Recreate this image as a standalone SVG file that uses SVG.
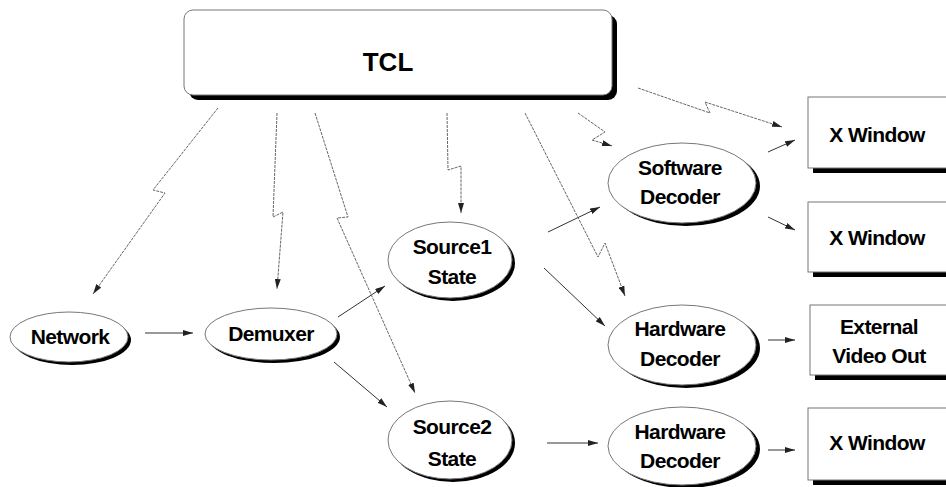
<svg xmlns="http://www.w3.org/2000/svg" width="946" height="487" viewBox="0 0 946 487">
  <style>
    .lbl { font-family: "Liberation Sans", Arial, sans-serif; font-weight: bold; font-size: 21px; fill: #000; text-anchor: middle; letter-spacing: -0.6px; }
    .shape { fill: #fff; stroke: #777; stroke-width: 1; }
    .shadow { fill: #000; }
    .flow { fill: none; stroke: #333; stroke-width: 1; marker-end: url(#arr); }
    .ctrl { fill: none; stroke: #666; stroke-width: 1; stroke-dasharray: 3 1; marker-end: url(#arr); }
  </style>
  <defs>
    <marker id="arr" viewBox="0 0 10 6" refX="10" refY="3" markerWidth="10" markerHeight="6" markerUnits="userSpaceOnUse" orient="auto">
      <path d="M0,0 L10,3 L0,6 Z" fill="#222"/>
    </marker>
  </defs>
  <rect width="946" height="487" fill="#fff"/>

  <g id="tcl">
    <rect class="shadow" x="189" y="15" width="428" height="85" rx="9"/>
    <rect class="shape" x="184" y="10" width="428" height="85" rx="9"/>
    <text class="lbl" x="388" y="71" style="font-size:26px;letter-spacing:0">TCL</text>
  </g>

  <g id="network">
    <ellipse class="shadow" cx="72" cy="340" rx="59" ry="25"/>
    <ellipse class="shape" cx="69" cy="337" rx="59" ry="25"/>
    <text class="lbl" x="70" y="344">Network</text>
  </g>

  <g id="demuxer">
    <ellipse class="shadow" cx="274" cy="337" rx="66" ry="26"/>
    <ellipse class="shape" cx="271" cy="334" rx="66" ry="26"/>
    <text class="lbl" x="271" y="341">Demuxer</text>
  </g>

  <g id="source1">
    <ellipse class="shadow" cx="453" cy="263" rx="62" ry="38"/>
    <ellipse class="shape" cx="450" cy="260" rx="62" ry="38"/>
    <text class="lbl" x="452" y="254">Source1</text>
    <text class="lbl" x="452" y="284">State</text>
  </g>

  <g id="source2">
    <ellipse class="shadow" cx="453" cy="443" rx="62" ry="39"/>
    <ellipse class="shape" cx="450" cy="440" rx="62" ry="39"/>
    <text class="lbl" x="452" y="434">Source2</text>
    <text class="lbl" x="452" y="466">State</text>
  </g>

  <g id="software-decoder">
    <ellipse class="shadow" cx="686" cy="186" rx="74" ry="40"/>
    <ellipse class="shape" cx="682" cy="183" rx="74" ry="40"/>
    <text class="lbl" x="680" y="175">Software</text>
    <text class="lbl" x="680" y="204">Decoder</text>
  </g>

  <g id="hardware-decoder-1">
    <ellipse class="shadow" cx="686" cy="348" rx="74" ry="40"/>
    <ellipse class="shape" cx="682" cy="345" rx="74" ry="40"/>
    <text class="lbl" x="680" y="336">Hardware</text>
    <text class="lbl" x="680" y="366">Decoder</text>
  </g>

  <g id="hardware-decoder-2">
    <ellipse class="shadow" cx="686" cy="449" rx="74" ry="39"/>
    <ellipse class="shape" cx="682" cy="446" rx="74" ry="39"/>
    <text class="lbl" x="680" y="439">Hardware</text>
    <text class="lbl" x="680" y="468">Decoder</text>
  </g>

  <g id="xwindow-1">
    <rect class="shadow" x="813" y="102" width="140" height="71"/>
    <rect class="shape" x="808" y="97" width="140" height="71"/>
    <text class="lbl" x="877" y="142">X Window</text>
  </g>

  <g id="xwindow-2">
    <rect class="shadow" x="813" y="207" width="140" height="70"/>
    <rect class="shape" x="808" y="202" width="140" height="70"/>
    <text class="lbl" x="877" y="245">X Window</text>
  </g>

  <g id="external-video-out">
    <rect class="shadow" x="815" y="310" width="140" height="70"/>
    <rect class="shape" x="810" y="305" width="140" height="70"/>
    <text class="lbl" x="879" y="334">External</text>
    <text class="lbl" x="879" y="363">Video Out</text>
  </g>

  <g id="xwindow-3">
    <rect class="shadow" x="813" y="413" width="140" height="72"/>
    <rect class="shape" x="808" y="408" width="140" height="72"/>
    <text class="lbl" x="877" y="450">X Window</text>
  </g>

  <g id="connectors">
    <!-- data flow -->
    <line class="flow" x1="145" y1="333" x2="193" y2="333"/>
    <line class="flow" x1="338" y1="317" x2="385" y2="286"/>
    <line class="flow" x1="334" y1="362" x2="387" y2="407"/>
    <line class="flow" x1="548" y1="232" x2="600" y2="207"/>
    <line class="flow" x1="544" y1="268" x2="605" y2="326"/>
    <line class="flow" x1="547" y1="443" x2="598" y2="443"/>
    <line class="flow" x1="768" y1="152" x2="795" y2="140"/>
    <line class="flow" x1="768" y1="217" x2="795" y2="230"/>
    <line class="flow" x1="768" y1="340" x2="795" y2="340"/>
    <line class="flow" x1="768" y1="450" x2="795" y2="450"/>
    <!-- control links from TCL -->
    <polyline class="ctrl" points="218,108 153,190 165,193 93,294"/>
    <polyline class="ctrl" points="277,113 273,217 283,212 277,289"/>
    <polyline class="ctrl" points="315,113 348,217 337,218 415,393"/>
    <polyline class="ctrl" points="447,113 448,170 461,166 461,213"/>
    <polyline class="ctrl" points="525,113 598,257 605,243 625,296"/>
    <polyline class="ctrl" points="578,113 605,132 592,140 612,146"/>
    <polyline class="ctrl" points="638,88 710,113 705,102 782,127"/>
  </g>
</svg>
